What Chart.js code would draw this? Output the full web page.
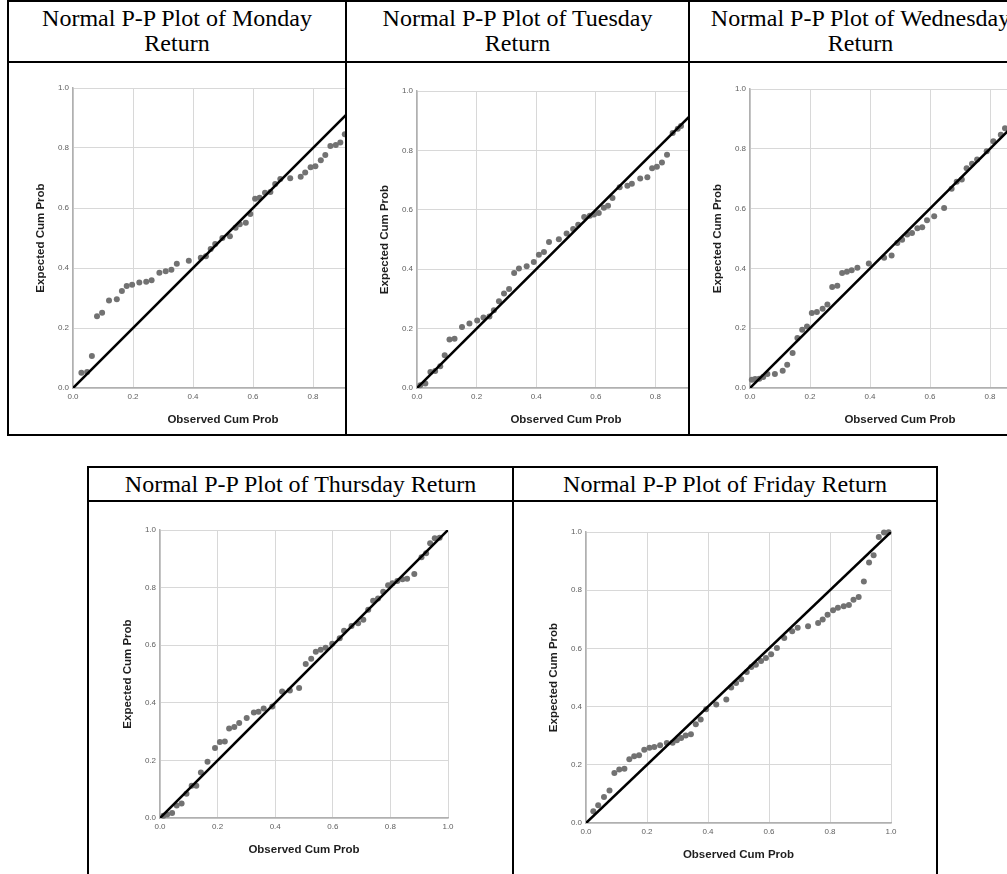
<!DOCTYPE html>
<html><head><meta charset="utf-8">
<script src="https://cdn.jsdelivr.net/npm/chart.js@4.4.1/dist/chart.umd.min.js"></script>
<style>
html,body{margin:0;padding:0;background:#fff;width:1007px;height:874px;overflow:hidden;position:relative;}
.ln{position:absolute;background:#000;}
.ttl{position:absolute;font-family:"Liberation Serif","Times New Roman",serif;font-size:24px;line-height:25px;text-align:center;color:#000;white-space:nowrap;}
.clip{position:absolute;overflow:hidden;}
.clip canvas{position:absolute;}
</style></head><body>
<script>
// ---------- data ----------
const titles = [
  ["Normal P-P Plot of Monday", "Return"],
  ["Normal P-P Plot of Tuesday", "Return"],
  ["Normal P-P Plot of Wednesday", "Return"],
  ["Normal P-P Plot of Thursday Return"],
  ["Normal P-P Plot of Friday Return"]
];
const xTitle = "Observed Cum Prob";
const yTitle = "Expected Cum Prob";
const tickValues = [0, 0.2, 0.4, 0.6, 0.8, 1.0];
const tickLabels = ["0.0", "0.2", "0.4", "0.6", "0.8", "1.0"];

const mondayObs = [.028,.047,.063,.080,.097,.120,.146,.163,.179,.197,.221,.244,.262,.288,.309,.328,.346,.386,.426,.443,.459,.474,.498,.523,.542,.556,.576,.591,.607,.622,.640,.658,.674,.691,.724,.759,.774,.792,.808,.826,.841,.858,.876,.891,.906];
const mondayExp = [.051,.053,.107,.239,.251,.292,.296,.323,.340,.344,.352,.354,.359,.384,.389,.394,.414,.424,.434,.439,.463,.480,.500,.506,.534,.546,.551,.580,.631,.634,.651,.653,.680,.697,.699,.704,.718,.736,.739,.759,.777,.807,.810,.818,.846];

const tuesdayObs = [.011,.028,.045,.061,.078,.093,.109,.126,.151,.176,.202,.223,.243,.258,.275,.292,.309,.326,.342,.368,.392,.409,.426,.443,.476,.502,.524,.541,.561,.580,.594,.610,.627,.641,.656,.680,.706,.721,.749,.773,.789,.805,.822,.839,.858,.875,.886];
const tuesdayExp = [.009,.015,.054,.057,.073,.110,.163,.166,.205,.217,.227,.237,.241,.262,.292,.318,.333,.387,.402,.410,.424,.449,.458,.492,.501,.520,.535,.550,.576,.580,.584,.589,.607,.614,.640,.676,.681,.688,.705,.710,.740,.745,.759,.785,.859,.873,.882];

const wednesdayObs = [.006,.017,.031,.044,.058,.083,.109,.124,.142,.158,.174,.190,.206,.223,.242,.258,.274,.291,.307,.323,.339,.358,.396,.447,.472,.491,.507,.524,.540,.558,.574,.590,.614,.647,.672,.689,.706,.722,.740,.757,.789,.811,.836,.850];
const wednesdayExp = [.028,.030,.031,.037,.047,.047,.058,.078,.117,.167,.195,.206,.251,.254,.265,.279,.338,.342,.385,.389,.394,.402,.416,.436,.443,.485,.496,.513,.518,.534,.538,.561,.574,.602,.666,.690,.697,.735,.750,.764,.792,.825,.847,.869];

const thursdayObs = [.012,.025,.042,.058,.075,.092,.110,.126,.142,.165,.191,.208,.225,.240,.258,.275,.301,.326,.342,.360,.390,.424,.451,.483,.506,.525,.541,.558,.575,.598,.624,.639,.665,.688,.706,.723,.740,.757,.775,.792,.807,.824,.842,.858,.883,.908,.924,.938,.954,.971];
const thursdayExp = [.008,.012,.017,.043,.050,.084,.112,.112,.158,.195,.243,.264,.266,.311,.316,.330,.347,.366,.369,.380,.387,.439,.443,.451,.535,.553,.577,.584,.591,.605,.624,.650,.667,.676,.688,.723,.754,.762,.786,.808,.815,.823,.829,.831,.847,.905,.919,.954,.971,.973];

const fridayObs = [.024,.040,.059,.077,.093,.109,.126,.142,.158,.174,.191,.208,.224,.243,.265,.284,.298,.312,.327,.344,.360,.376,.394,.427,.460,.476,.492,.509,.527,.542,.557,.574,.590,.607,.626,.650,.676,.694,.728,.761,.776,.792,.810,.826,.845,.862,.877,.894,.911,.928,.943,.960,.977,.992];
const fridayExp = [.040,.061,.089,.112,.172,.184,.186,.219,.229,.233,.252,.259,.261,.267,.275,.276,.284,.292,.301,.305,.339,.356,.391,.407,.424,.466,.481,.494,.519,.536,.544,.557,.567,.580,.601,.636,.659,.671,.676,.687,.699,.716,.731,.740,.745,.749,.767,.777,.830,.895,.920,.983,.998,.999];

// ---------- layout (page pixels) ----------
const lines = [
  // top table
  [7,0,1000,2],[7,61,1000,2],[7,434,1000,2],
  [7,0,2,436],[345,0,2,436],[688,0,2,436],
  // bottom table
  [87,466,851,2],[87,500,851,2],
  [87,466,2,408],[512,466,2,408],[936,466,2,408]
];
const titleBoxes = [
  [9,6,336],[347,6,341],[690,6,341],
  [89,472,423],[514,472,422]
];
const panels = [
  {obs:mondayObs, exp:mondayExp, plot:[73,88,300,300], clip:[9,63,336,371]},
  {obs:tuesdayObs, exp:tuesdayExp, plot:[417,91,298,297], clip:[347,63,341,371]},
  {obs:wednesdayObs, exp:wednesdayExp, plot:[750,89,300,299], clip:[690,63,320,371]},
  {obs:thursdayObs, exp:thursdayExp, plot:[160,530,288,288], clip:[89,502,423,372]},
  {obs:fridayObs, exp:fridayExp, plot:[586,532,305,291], clip:[514,502,422,372]}
];

lines.forEach(([x,y,w,h]) => {
  const d = document.createElement('div'); d.className = 'ln';
  Object.assign(d.style, {left:x+'px', top:y+'px', width:w+'px', height:h+'px'});
  document.body.appendChild(d);
});
titleBoxes.forEach(([x,y,w], i) => {
  const d = document.createElement('div'); d.className = 'ttl';
  Object.assign(d.style, {left:x+'px', top:y+'px', width:w+'px'});
  d.innerHTML = titles[i].join('<br>');
  document.body.appendChild(d);
});

const YW = 39, XH = 39, PT = 12, PR = 14;
function axis(title, isY) {
  return {
    type: 'linear', min: 0, max: 1,
    afterBuildTicks: s => { s.ticks = tickValues.map(v => ({value: v})); },
    afterFit: s => { if (isY) s.width = YW; else s.height = XH; },
    grid: {color: '#d8d8d8', lineWidth: 1, drawTicks: false},
    border: {color: '#b0b0b0', width: 1.5},
    ticks: {color: '#606060', font: {family: 'Liberation Sans', size: 8}, padding: 4,
            maxRotation: 0, autoSkip: false, callback: (v, i) => tickLabels[i]},
    title: {display: true, text: title, color: '#1e1e1e', padding: 0,
            font: {family: 'Liberation Sans', size: 11.5, weight: 'bold'}}
  };
}
panels.forEach(p => {
  const [pl, pt, pw, ph] = p.plot;
  const [cl, ct, cw, chh] = p.clip;
  const wrap = document.createElement('div'); wrap.className = 'clip';
  Object.assign(wrap.style, {left:cl+'px', top:ct+'px', width:cw+'px', height:chh+'px'});
  const cv = document.createElement('canvas');
  const W = YW + pw + PR, H = PT + ph + XH;
  cv.width = W; cv.height = H;
  Object.assign(cv.style, {width:W+'px', height:H+'px', left:(pl-YW-cl)+'px', top:(pt-PT-ct)+'px'});
  wrap.appendChild(cv); document.body.appendChild(wrap);
  new Chart(cv, {
    type: 'scatter',
    data: {datasets: [
      {data: [{x:0, y:0}, {x:1, y:1}], showLine: true, borderColor: '#000', borderWidth: 2.6,
       pointRadius: 0, order: 0},
      {data: p.obs.map((x, i) => ({x, y: p.exp[i]})), pointRadius: 3,
       pointBackgroundColor: '#727272', pointBorderWidth: 0, clip: false, order: 1}
    ]},
    options: {
      responsive: false, animation: false, events: [],
      layout: {padding: {top: PT, right: PR, left: 0, bottom: 0}},
      plugins: {legend: {display: false}, tooltip: {enabled: false}},
      scales: {x: axis(xTitle, false), y: axis(yTitle, true)}
    }
  });
});
</script>
</body></html>
